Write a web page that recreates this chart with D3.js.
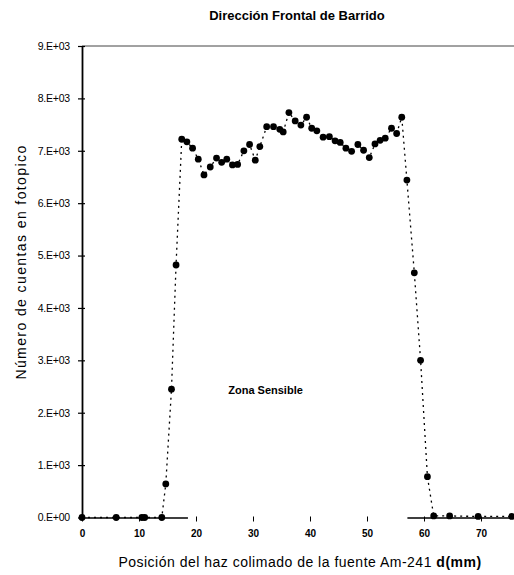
<!DOCTYPE html>
<html>
<head>
<meta charset="utf-8">
<script src="https://cdn.jsdelivr.net/npm/d3@7"></script>
<style>
  body { margin: 0; background: #fff; }
  svg { font-family: 'Liberation Sans', Arial, sans-serif; }
  .tick text { fill: #000; }
</style>
</head>
<body>
<svg width="514" height="575"></svg>
<script>
// Posicion (mm)
const positions = [0, 6, 10.5, 11, 14, 14.7, 15.7, 16.5, 17.5, 18.4, 19.4, 20.4, 21.4, 22.5, 23.6,
  24.5, 25.4, 26.4, 27.3, 28.4, 29.4, 30.4, 31.2, 32.4, 33.6, 34.7, 35.3, 36.3, 37.4, 38.4,
  39.4, 40.3, 41.2, 42.3, 43.4, 44.4, 45.3, 46.3, 47.3, 48.4, 49.4, 50.4, 51.4, 52.3, 53.2,
  54.3, 55.2, 56.1, 57.0, 58.3, 59.4, 60.6, 61.7, 64.5, 69.5, 75.4];

// Numero de cuentas en fotopico
const counts = [0, 0, 0, 0, 0, 640, 2450, 4820, 7220, 7170, 7050, 6840, 6540, 6690, 6860,
  6780, 6840, 6730, 6740, 7000, 7120, 6820, 7080, 7460, 7460, 7410, 7360, 7730, 7570, 7490,
  7640, 7430, 7380, 7260, 7270, 7190, 7160, 7050, 6990, 7120, 7010, 6870, 7130, 7200, 7240,
  7430, 7330, 7640, 6440, 4670, 3000, 780, 30, 30, 20, 20];

const xTicks = [0, 10, 20, 30, 40, 50, 60, 70];
const yTicks = [0, 1000, 2000, 3000, 4000, 5000, 6000, 7000, 8000, 9000];
const yTickLabels = ['0.E+00', '1.E+03', '2.E+03', '3.E+03', '4.E+03', '5.E+03', '6.E+03', '7.E+03', '8.E+03', '9.E+03'];

const titleText = 'Dirección Frontal de Barrido';
const yLabelText = 'Número de cuentas en fotopico';
const xLabelText = 'Posición del haz colimado de la fuente Am-241 ';
const xLabelBold = 'd(mm)';
const noteText = 'Zona Sensible';

const data = positions.map((p, i) => ({ x: p, y: counts[i] }));

const svg = d3.select('svg');

const xScale = d3.scaleLinear().domain([0, 76]).range([82, 515.2]);
const yScale = d3.scaleLinear().domain([0, 9000]).range([517.5, 46]);

// top border (faint in the scan)
svg.append('line')
  .attr('x1', xScale(0)).attr('x2', 514)
  .attr('y1', yScale(9000)).attr('y2', yScale(9000))
  .attr('stroke', '#444').attr('stroke-width', 1);

// x axis
const xAxisG = svg.append('g')
  .attr('transform', `translate(0,${yScale(0)})`)
  .call(d3.axisBottom(xScale).tickValues(xTicks).tickSize(4).tickSizeOuter(0).tickFormat(d3.format('d')));
// the scanned axis line only shows at both ends
const seg1 = xScale(18.5) - xScale(0);
const gap = xScale(57) - xScale(18.5);
xAxisG.select('.domain')
  .attr('stroke', '#000').attr('stroke-width', 1.5)
  .attr('stroke-dasharray', `${seg1},${gap},1000`);
xAxisG.selectAll('.tick line').attr('stroke', '#000').attr('y1', -1).attr('y2', 4);
xAxisG.selectAll('.tick text')
  .attr('y', 12)
  .style('font-size', '10px')
  .style('font-weight', 'bold');

// y axis
const yAxisG = svg.append('g')
  .attr('transform', `translate(${xScale(0)},0)`)
  .call(d3.axisLeft(yScale).tickValues(yTicks).tickSize(4).tickSizeOuter(0)
    .tickFormat((d, i) => yTickLabels[i]));
yAxisG.select('.domain').attr('stroke', '#000').attr('stroke-width', 1.8);
yAxisG.selectAll('.tick line').attr('stroke', '#000').attr('stroke-width', 1.2).attr('x1', 3).attr('x2', -4);
yAxisG.selectAll('.tick text')
  .attr('x', -12)
  .style('font-size', '10.5px')
  .style('letter-spacing', '-0.2px');

// series line
const line = d3.line().x(d => xScale(d.x)).y(d => yScale(d.y));
svg.append('path')
  .datum(data)
  .attr('fill', 'none')
  .attr('stroke', '#000')
  .attr('stroke-width', 1.3)
  .attr('stroke-dasharray', '2,4')
  .attr('d', line);

// markers
svg.selectAll('circle.pt').data(data)
  .enter().append('circle')
  .attr('class', 'pt')
  .attr('cx', d => xScale(d.x))
  .attr('cy', d => yScale(d.y))
  .attr('r', 3.4)
  .attr('fill', '#000');

// title
svg.append('text')
  .attr('x', 297).attr('y', 20)
  .attr('text-anchor', 'middle')
  .style('font-size', '13px')
  .style('font-weight', 'bold')
  .text(titleText);

// y label
svg.append('text')
  .attr('transform', `translate(26,262) rotate(-90)`)
  .attr('text-anchor', 'middle')
  .style('font-size', '14px')
  .style('letter-spacing', '1.4px')
  .text(yLabelText);

// x label
const xl = svg.append('text')
  .attr('x', 300).attr('y', 567)
  .attr('text-anchor', 'middle')
  .style('font-size', '14px')
  .style('letter-spacing', '0.5px');
xl.append('tspan').text(xLabelText);
xl.append('tspan').style('font-weight', 'bold').text(xLabelBold);

// annotation
svg.append('text')
  .attr('x', xScale(32.2)).attr('y', yScale(2350))
  .attr('text-anchor', 'middle')
  .style('font-size', '11px')
  .style('font-weight', 'bold')
  .text(noteText);
</script>
</body>
</html>
